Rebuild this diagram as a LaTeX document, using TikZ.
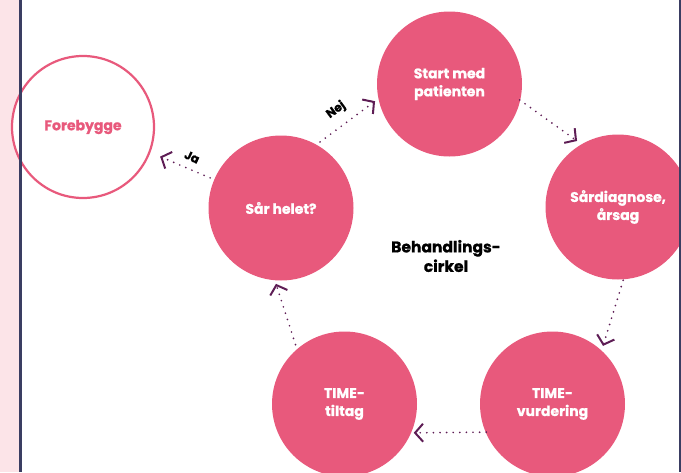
\documentclass[tikz,border=0pt]{standalone}
\usepackage{fontspec}
\setmainfont{Poppins}[BoldFont={Poppins Bold},BoldFeatures={FakeBold=0.9}]
\usetikzlibrary{arrows.meta,calc}
\definecolor{rose}{HTML}{E8597C}
\definecolor{plum}{HTML}{5E1D55}
\definecolor{navy}{HTML}{3A3D62}
\definecolor{blush}{HTML}{FCE4E8}
\begin{document}
\begin{tikzpicture}[x=1pt,y=-1pt,
  stage/.style={circle,fill=rose,minimum size=145pt,inner sep=0pt,
    text=white,align=center,font=\bfseries\fontsize{14}{18}\selectfont},
  goal/.style={circle,draw=rose,line width=2.2pt,fill=white,minimum size=142pt,
    inner sep=0pt,text=rose,align=center,font=\bfseries\fontsize{14}{18}\selectfont},
  flow/.style={plum,line width=1.9pt,line cap=round,dash pattern=on 0pt off 6.6pt,
    -{Straight Barb[length=8pt,width=18pt,line width=2pt]}},
  tag/.style={font=\bfseries\fontsize{12}{14}\selectfont,text=black,inner sep=1pt}]
\useasboundingbox (0,0) rectangle (681,472);
\begin{scope}
\clip (0,0) rectangle (681,472);
% side strip and frame
\fill[blush] (0,0) rectangle (19.5,472);
% stages of the cycle
\node[stage] (start)  at (449.5,84)  {Start med\\patienten};
\node[stage] (diag)   at (618,207)   {Sårdiagnose,\\årsag};
\node[stage] (vurd)   at (552.5,404) {TIME-\\vurdering};
\node[stage] (tiltag) at (344.5,404) {TIME-\\tiltag};
\node[stage] (helet)  at (281,208)   {Sår helet?};
\node[goal]  (fore)   at (83,127)    {Forebygge};
\node[font=\bfseries\fontsize{15.5}{19.5}\selectfont,align=center] (mid) at (446,256)
  {Behandlings-\\cirkel};
\fill[navy] (19,0) rectangle (21.5,472);
\fill[navy] (678.5,0) rectangle (681,472);
\end{scope}
% connectors between the stages
\draw[flow] ($(start.center)+(12.8:72)$) -- ($(diag.center)+(-121.8:77.7)$);
\draw[flow] ($(diag.center)+(86:73.5)$) -- ($(vurd.center)+(-49:77)$);
\draw[flow] ($(vurd.center)+(157:72)$) -- ($(tiltag.center)+(22.6:75)$);
\draw[flow] ($(tiltag.center)+(-129.5:77)$) -- ($(helet.center)+(93.8:76)$);
\draw[flow] ($(helet.center)+(-59.4:76.7)$) -- ($(start.center)+(167:76.4)$);
\draw[flow] ($(helet.center)+(-157:77)$) -- ($(fore.center)+(21:82.6)$);
% answers on the two exits of the question
\node[tag,rotate=36] (nej) at (336,110) {Nej};
\node[tag,rotate=-25] (ja) at (192,157) {Ja};
\end{tikzpicture}
\end{document}
